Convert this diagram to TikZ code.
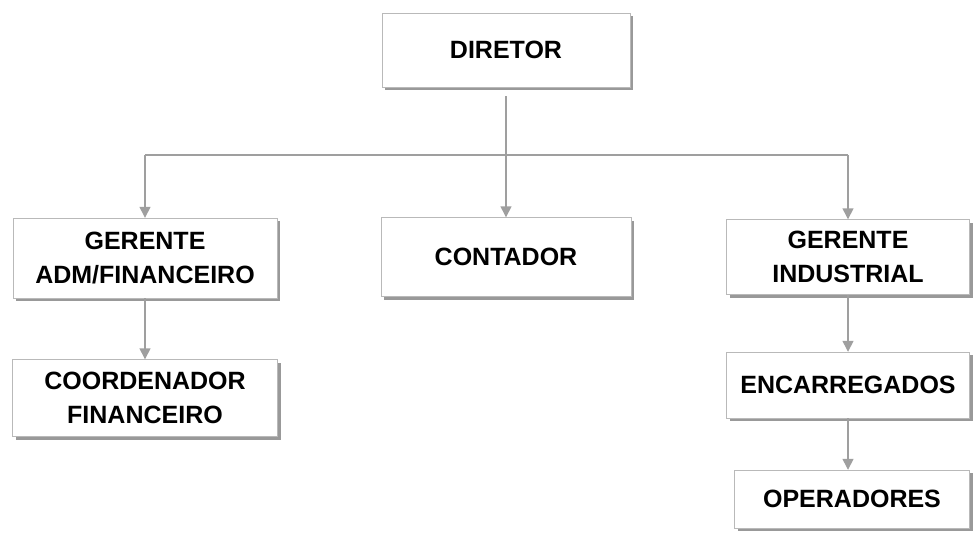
\documentclass[tikz,border=0pt]{standalone}
\usepackage{fontspec}
\setmainfont{Liberation Sans}
\usetikzlibrary{arrows.meta,shadows}

\tikzset{
    org box/.style={
        draw=gray!55,thin,
        fill=white,
        drop shadow={shadow xshift=3pt,shadow yshift=-3pt,fill=gray!80,opacity=1},
        align=center,
        font=\bfseries\fontsize{25}{34}\selectfont
    },
    org arrow/.style={
        draw=gray!75,line width=1.4pt,
        -{Triangle[width=11pt,length=11pt]}
    }
}

\begin{document}
\begin{tikzpicture}[x=1pt,y=-1pt]
        \useasboundingbox (0,0) rectangle (973,532);
        \node[org box,minimum width=248,minimum height=74] (diretor) at (506,50) {DIRETOR};
        \node[org box,minimum width=264,minimum height=80] (adm) at (145,258) {GERENTE\\ADM/FINANCEIRO};
        \node[org box,minimum width=250,minimum height=79] (contador) at (506,257) {CONTADOR};
        \node[org box,minimum width=243,minimum height=75] (industrial) at (848,257) {GERENTE\\INDUSTRIAL};
        \node[org box,minimum width=265,minimum height=77] (coordenador) at (145,398) {COORDENADOR\\FINANCEIRO};
        \node[org box,minimum width=243,minimum height=66] (encarregados) at (848,385) {ENCARREGADOS};
        \node[org box,minimum width=235,minimum height=58] (operadores) at (852,499) {OPERADORES};
        \coordinate (bar) at (506,155);
        \draw[org arrow,shorten <=9pt] (diretor.south) -- (contador.north);
        \draw[draw=gray!75,line width=1.4pt] (adm.north |- bar) -- (industrial.north |- bar);
        \foreach \name in {adm,industrial}
            \draw[org arrow] (\name.north |- bar) -- (\name.north);
        \draw[org arrow] (adm.south) -- (coordenador.north);
        \draw[org arrow] (industrial.south) -- (encarregados.north);
        \draw[org arrow] (encarregados.south) -- (operadores.north -| encarregados.south);
    \end{tikzpicture}
\end{document}
